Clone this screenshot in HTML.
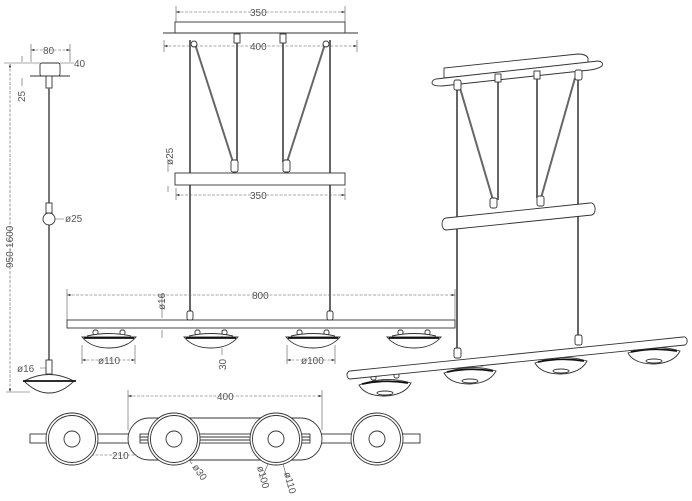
<!DOCTYPE html>
<html><head><style>html,body{margin:0;padding:0;background:#fff}svg{display:block}text{font-family:"Liberation Sans",sans-serif;font-size:10px;fill:#555}</style></head>
<body>
<svg width="692" height="501" viewBox="0 0 692 501" xmlns="http://www.w3.org/2000/svg">
<defs>
<g id="lamp" fill="#fff" stroke="#333" stroke-width="0.9">
<rect x="-16" y="-6" width="5" height="5" rx="2"/><rect x="11" y="-6" width="5" height="5" rx="2"/>
<path d="M-22,0 Q0,-5 22,0"/>
<path d="M-27,1 L27,1 Q18,12 0,12 Q-18,12 -27,1Z"/>
<line x1="-25" y1="2" x2="25" y2="2" stroke="#111" stroke-width="1.8"/>
</g>
<g id="plamp" fill="#fff" stroke="#333" stroke-width="0.9">
<rect x="-14" y="-8" width="5" height="5" rx="2"/><rect x="9" y="-10" width="5" height="5" rx="2"/>
<path d="M-26,2 Q0,-8 26,0 Q20,12 0,13 Q-20,13 -26,2Z"/>
<path d="M-23,1 Q0,-4 23,0" stroke="#111" stroke-width="1.8"/>
<ellipse cx="0" cy="10" rx="8" ry="2"/>
</g>
<marker id="a" viewBox="0 0 6 4" refX="6" refY="2" markerWidth="6" markerHeight="4" orient="auto-start-reverse"><path d="M0,0L6,2L0,4Z" fill="#333"/></marker>
<g id="top" fill="#fff" stroke="#333" stroke-width="0.9"><circle r="26"/><circle r="23.5"/><circle r="8"/></g>
</defs>
<g stroke="#555" stroke-width="0.6" stroke-dasharray="3,1.5" fill="none">
<line x1="31" y1="50" x2="70" y2="50" marker-start="url(#a)" marker-end="url(#a)"/>
<line x1="10" y1="64" x2="10" y2="392" marker-start="url(#a)" marker-end="url(#a)"/>
<line x1="176" y1="12" x2="345" y2="12" marker-start="url(#a)" marker-end="url(#a)"/>
<line x1="164" y1="46" x2="357" y2="46" marker-start="url(#a)" marker-end="url(#a)"/>
<line x1="176" y1="195" x2="345" y2="195" marker-start="url(#a)" marker-end="url(#a)"/>
<line x1="67" y1="295" x2="455" y2="295" marker-start="url(#a)" marker-end="url(#a)"/>
<line x1="82" y1="360" x2="135" y2="360" marker-start="url(#a)" marker-end="url(#a)"/>
<line x1="287" y1="360" x2="335" y2="360" marker-start="url(#a)" marker-end="url(#a)"/>
<line x1="128" y1="396" x2="322" y2="396" marker-start="url(#a)" marker-end="url(#a)"/>
<line x1="73" y1="455" x2="174" y2="455" marker-start="url(#a)" marker-end="url(#a)"/>
</g>
<g stroke="#555" stroke-width="0.6" fill="none">
<path d="M31,44V62M70,44V62M4,63H40M60,63H74M6,392H30M176,6V22M345,6V22M164,40V52M357,40V52M176,188V200M345,188V200M67,289V320M455,289V320M82,345V364M135,345V364M287,345V364M335,345V364M128,390V430M322,390V430M73,440V460M174,440V460"/>
<path d="M22,78V86M22,62V56M168,160V172M168,186V192M162,294V318M162,330V338M222,330V340M222,348V355M48,219H64M40,368H46"/>
<path d="M180,446L192,464M268,464L262,478M283,464L287,478"/>
</g>
<g>
<text x="43" y="54">80</text><text x="74" y="67">40</text>
<text transform="translate(25,102) rotate(-90)">25</text>
<text transform="translate(13,268) rotate(-90)">950-1600</text>
<text x="65" y="222">ø25</text><text x="17" y="372">ø16</text>
<text x="250" y="16">350</text><text x="250" y="50">400</text><text x="250" y="199">350</text>
<text transform="translate(173,165) rotate(-90)">ø25</text>
<text x="252" y="299">800</text>
<text transform="translate(165,310) rotate(-90)">ø16</text>
<text x="98" y="364">ø110</text><text x="301" y="364">ø100</text>
<text transform="translate(226,370) rotate(-90)">30</text>
<text x="217" y="400">400</text><text x="112" y="459">210</text>
<text transform="translate(192,467) rotate(55)">ø30</text>
<text transform="translate(257,467) rotate(75)">ø100</text>
<text transform="translate(284,473) rotate(75)">ø110</text>
</g>
<g fill="#fff" stroke="#333" stroke-width="0.9">
<rect x="40" y="63" width="20" height="13" rx="2"/>
<line x1="30" y1="76" x2="70" y2="76"/>
<rect x="46" y="76" width="6" height="12"/>
<line x1="49" y1="88" x2="49" y2="370" stroke="#777" stroke-width="2"/>
<rect x="46" y="203" width="6" height="10"/>
<circle cx="49" cy="219" r="6"/>
<rect x="46" y="360" width="6" height="14"/>
<path d="M24,381 Q49,368 74,381 Q62,393 49,393 Q36,393 24,381Z"/>
<line x1="23" y1="381" x2="76" y2="381" stroke="#111" stroke-width="1.8"/>
<rect x="175" y="22" width="170" height="11"/>
<line x1="163" y1="33" x2="358" y2="33"/>
<g stroke="#666" stroke-width="2">
<line x1="190" y1="40" x2="190" y2="320"/><line x1="330" y1="40" x2="330" y2="320"/>
<line x1="237" y1="40" x2="237" y2="162"/><line x1="283" y1="40" x2="283" y2="162"/>
<line x1="195" y1="44" x2="233" y2="162"/><line x1="325" y1="44" x2="287" y2="162"/>
</g>
<rect x="234" y="34" width="6" height="9"/><rect x="280" y="34" width="6" height="9"/>
<circle cx="194" cy="44" r="3"/><circle cx="326" cy="44" r="3"/>
<rect x="231" y="160" width="7" height="12" rx="2"/><rect x="283" y="160" width="7" height="12" rx="2"/>
<rect x="175" y="173" width="170" height="12"/>
<rect x="67" y="320" width="388" height="8"/>
<rect x="187" y="311" width="6" height="9" rx="2"/><rect x="327" y="311" width="6" height="9" rx="2"/>
</g>
<use href="#lamp" x="109" y="336"/><use href="#lamp" x="211" y="336"/><use href="#lamp" x="313" y="336"/><use href="#lamp" x="414" y="336"/>
<g fill="#fff" stroke="#333" stroke-width="0.9">
<rect x="30" y="434" width="390" height="9"/>
<rect x="128" y="418" width="194" height="42" rx="21"/>
<rect x="140" y="434" width="170" height="9"/>
<line x1="140" y1="437" x2="310" y2="437"/><line x1="140" y1="440" x2="310" y2="440"/>
</g>
<use href="#top" x="72" y="439"/><use href="#top" x="174" y="439"/><use href="#top" x="276" y="439"/><use href="#top" x="377" y="439"/>
<g fill="#fff" stroke="#333" stroke-width="0.9">
<path d="M444,78 L444,68 L578,54 Q586,54 588,58 L588,64Z"/>
<path d="M436,79 L598,61 Q604,62 602,66 Q598,69 590,70 L442,86 Q432,86 432,83 Q432,80 436,79Z"/>
<g stroke="#666" stroke-width="2">
<line x1="457" y1="84" x2="457" y2="352"/><line x1="578" y1="74" x2="578" y2="338"/>
<line x1="498" y1="80" x2="498" y2="200"/><line x1="537" y1="75" x2="537" y2="198"/>
<line x1="460" y1="88" x2="493" y2="200"/><line x1="575" y1="78" x2="541" y2="198"/>
</g>
<rect x="495" y="74" width="6" height="8"/><rect x="534" y="71" width="6" height="8"/>
<rect x="454" y="80" width="7" height="10" rx="2"/><rect x="575" y="70" width="7" height="10" rx="2"/>
<rect x="490" y="198" width="7" height="10" rx="2"/><rect x="537" y="196" width="7" height="10" rx="2"/>
<path d="M446,218 L590,203 A4,6 0 0 1 592,215 L446,230 A4,6 0 0 1 446,218Z"/>
<rect x="454" y="348" width="7" height="10" rx="2"/><rect x="575" y="335" width="7" height="10" rx="2"/>
</g>
<use href="#plamp" x="385" y="383"/><use href="#plamp" x="470" y="371"/><use href="#plamp" x="561" y="361"/><use href="#plamp" x="654" y="351"/>
<path d="M350,371 L683,337 A3,4 0 0 1 685,345 L350,379 A3,4 0 0 1 350,371Z" fill="#fff" stroke="#333" stroke-width="0.9"/>
</svg>
</body></html>
